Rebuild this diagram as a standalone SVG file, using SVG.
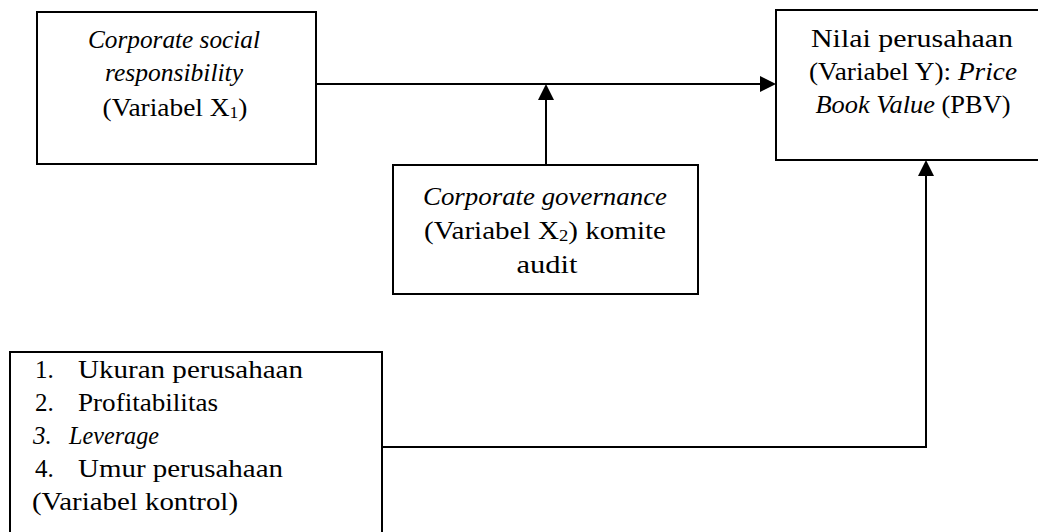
<svg xmlns="http://www.w3.org/2000/svg" width="1038" height="532" viewBox="0 0 1038 532">
<defs>
<style>
.box{fill:#fff;stroke:#000;stroke-width:2}
.t{font-family:"Liberation Serif",serif;font-size:25px;fill:#000}
.c{text-anchor:middle}
.i{font-style:italic}
.ln{stroke:#000;stroke-width:2;fill:none}
.ah{fill:#000}
.sub{font-size:16px}
</style>
</defs>
<rect width="1038" height="532" fill="#fff"/>
<g id="connectors">
<line class="ln" x1="316" y1="84" x2="762" y2="84"/>
<path class="ah" d="M760,76 L776,84 L760,92 Z"/>
<line class="ln" x1="546" y1="165" x2="546" y2="96"/>
<path class="ah" d="M538,100 L546,84 L554,100 Z"/>
<polyline class="ln" points="382,447 926,447 926,174"/>
<path class="ah" d="M918,176 L926,160 L934,176 Z"/>
</g>
<g id="csr">
<rect class="box" x="37" y="12" width="279" height="152"/>
<text class="t c i" x="174" y="48" textLength="172" lengthAdjust="spacingAndGlyphs">Corporate social</text>
<text class="t c i" x="174" y="81" textLength="138" lengthAdjust="spacingAndGlyphs">responsibility</text>
<text class="t c" x="175" y="116" textLength="145" lengthAdjust="spacingAndGlyphs">(Variabel X<tspan class="sub" dy="2">1</tspan><tspan dy="-2">)</tspan></text>
</g>
<g id="nilai">
<rect class="box" x="776" y="10" width="280" height="150"/>
<text class="t c" x="912" y="47" textLength="202" lengthAdjust="spacingAndGlyphs">Nilai perusahaan</text>
<text class="t c" x="913" y="80" textLength="208" lengthAdjust="spacingAndGlyphs">(Variabel Y): <tspan class="i">Price</tspan></text>
<text class="t c" x="913" y="113" textLength="195" lengthAdjust="spacingAndGlyphs"><tspan class="i">Book Value</tspan> (PBV)</text>
</g>
<g id="cg">
<rect class="box" x="393" y="165" width="305" height="129"/>
<text class="t c i" x="545" y="205" textLength="244" lengthAdjust="spacingAndGlyphs">Corporate governance</text>
<text class="t c" x="545" y="239" textLength="242" lengthAdjust="spacingAndGlyphs">(Variabel X<tspan class="sub" dy="2">2</tspan><tspan dy="-2">) komite</tspan></text>
<text class="t c" x="547" y="273" textLength="61" lengthAdjust="spacingAndGlyphs">audit</text>
</g>
<g id="kontrol">
<rect class="box" x="10" y="352" width="372" height="190"/>
<text class="t" x="35" y="378">1.</text><text class="t" x="78" y="378" textLength="225" lengthAdjust="spacingAndGlyphs">Ukuran perusahaan</text>
<text class="t" x="35" y="411">2.</text><text class="t" x="78" y="411" textLength="140" lengthAdjust="spacingAndGlyphs">Profitabilitas</text>
<text class="t i" x="33" y="444">3.</text><text class="t i" x="69" y="444" textLength="90" lengthAdjust="spacingAndGlyphs">Leverage</text>
<text class="t" x="35" y="477">4.</text><text class="t" x="78" y="477" textLength="205" lengthAdjust="spacingAndGlyphs">Umur perusahaan</text>
<text class="t" x="32" y="510" textLength="206" lengthAdjust="spacingAndGlyphs">(Variabel kontrol)</text>
</g>
</svg>
